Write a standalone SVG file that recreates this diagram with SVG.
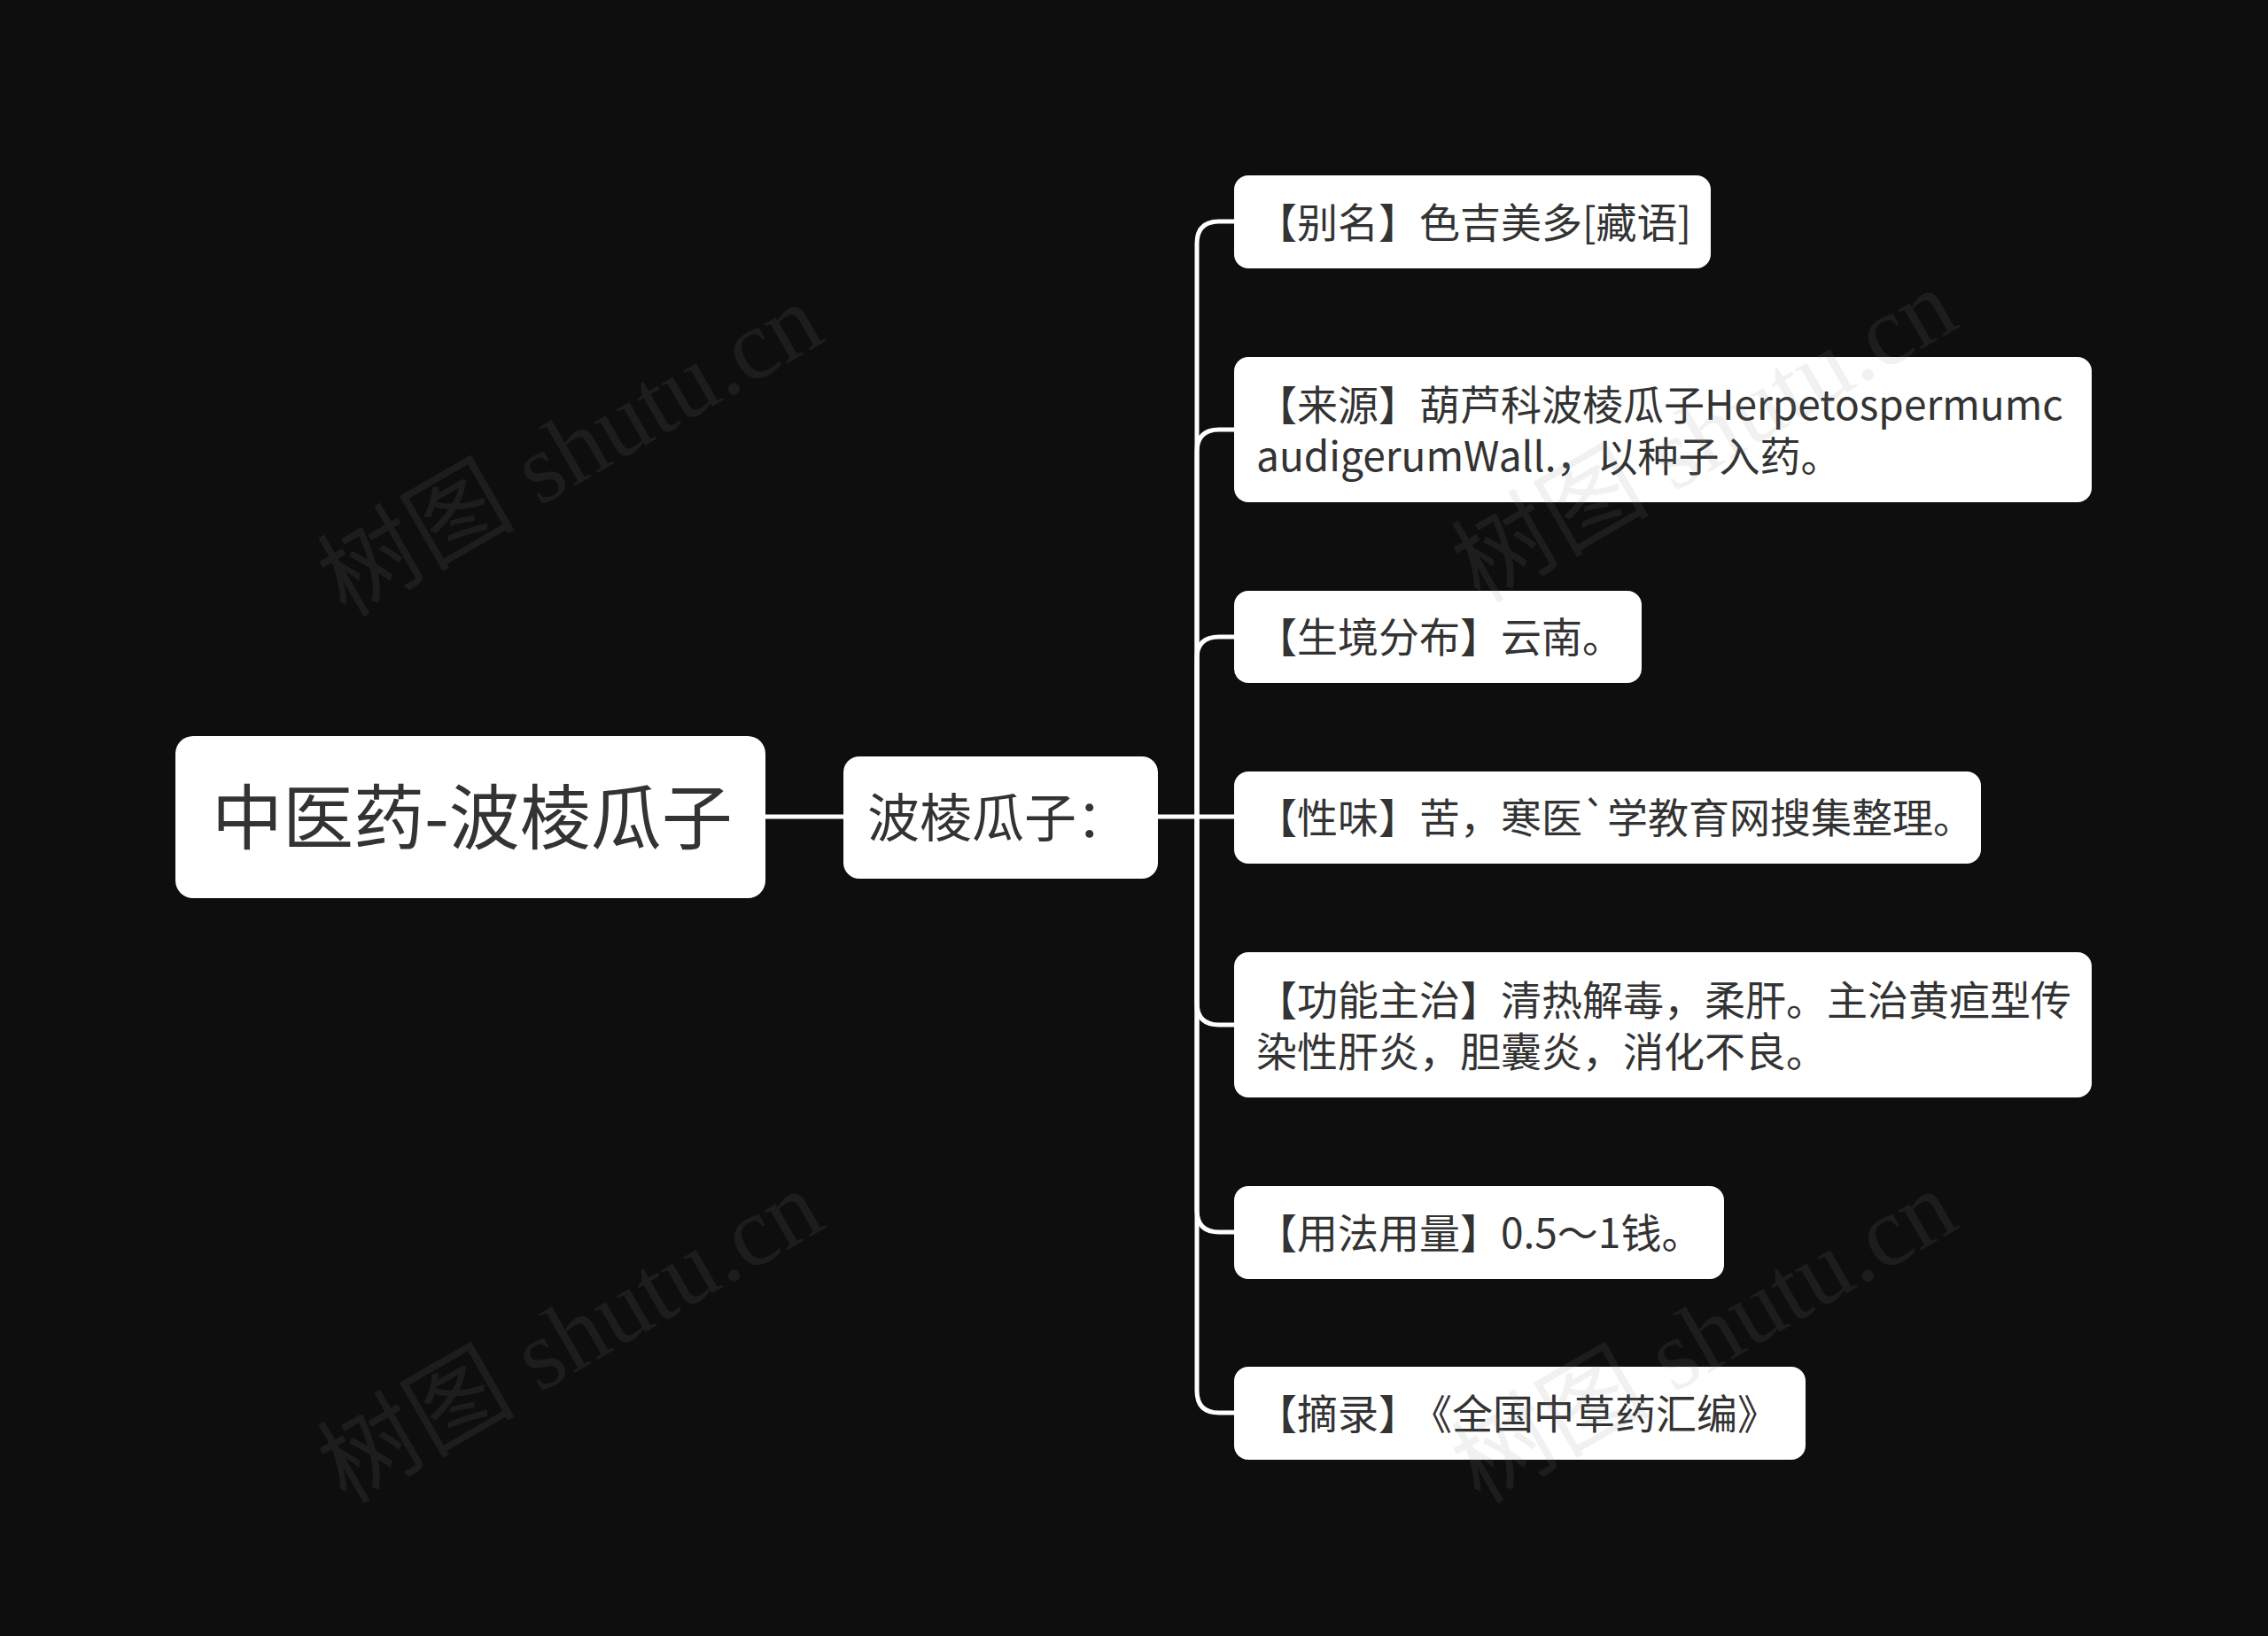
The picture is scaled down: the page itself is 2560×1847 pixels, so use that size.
<svg xmlns="http://www.w3.org/2000/svg" width="2560" height="1847" viewBox="0 0 2560 1847">
<style>
.bg{fill:#0e0e0e}
.box{fill:#ffffff}
.t{font-family:"Noto Sans CJK SC","Noto Sans",sans-serif;fill:#333333}
.leaf{font-size:46px}
.wm{font-family:"Liberation Serif","Noto Sans CJK SC",serif;font-size:112px;fill:#8a8a8a;fill-opacity:0.12}
.c{fill:none;stroke:#ffffff;stroke-width:5;stroke-linecap:round;stroke-linejoin:round}
</style>
<rect class="bg" x="0" y="0" width="2560" height="1847"/>
<g id="connectors">
<path class="c" d="M864,922 H952"/>
<path class="c" d="M1307,922 H1351 V275 Q1351,250 1376,250 H1393"/>
<path class="c" d="M1351,922 V510 Q1351,485 1376,485 H1393"/>
<path class="c" d="M1351,922 V743 Q1351,719 1376,719 H1393"/>
<path class="c" d="M1351,922 H1393"/>
<path class="c" d="M1351,922 V1132 Q1351,1157 1376,1157 H1393"/>
<path class="c" d="M1351,922 V1366 Q1351,1391 1376,1391 H1393"/>
<path class="c" d="M1351,922 V1570 Q1351,1595 1376,1595 H1393"/>
</g>
<g id="root">
<rect class="box" x="198" y="831" width="666" height="183" rx="20"/>
<text class="t" x="533" y="952" font-size="80" text-anchor="middle">中医药-波棱瓜子</text>
</g>
<g id="mid">
<rect class="box" x="952" y="854" width="355" height="138" rx="18"/>
<text class="t" x="979" y="945" font-size="59">波棱瓜子：</text>
</g>
<g id="leaf1">
<rect class="box" x="1393" y="198" width="538" height="105" rx="16"/>
<text class="t leaf" x="1418" y="268">【别名】色吉美多[藏语]</text>
</g>
<g id="leaf2">
<rect class="box" x="1393" y="403" width="968" height="164" rx="16"/>
<text class="t leaf"><tspan x="1418" y="474">【来源】葫芦科波棱瓜子Herpetospermumc</tspan><tspan x="1418" y="532">audigerumWall.，以种子入药。</tspan></text>
</g>
<g id="leaf3">
<rect class="box" x="1393" y="667" width="460" height="104" rx="16"/>
<text class="t leaf" x="1418" y="736">【生境分布】云南。</text>
</g>
<g id="leaf4">
<rect class="box" x="1393" y="871" width="843" height="104" rx="16"/>
<text class="t leaf" x="1418" y="940">【性味】苦，寒医`学教育网搜集整理。</text>
</g>
<g id="leaf5">
<rect class="box" x="1393" y="1075" width="968" height="164" rx="16"/>
<text class="t leaf"><tspan x="1418" y="1146">【功能主治】清热解毒，柔肝。主治黄疸型传</tspan><tspan x="1418" y="1204">染性肝炎，胆囊炎，消化不良。</tspan></text>
</g>
<g id="leaf6">
<rect class="box" x="1393" y="1339" width="553" height="105" rx="16"/>
<text class="t leaf" x="1418" y="1409">【用法用量】0.5～1钱。</text>
</g>
<g id="leaf7">
<rect class="box" x="1393" y="1543" width="645" height="105" rx="16"/>
<text class="t leaf" x="1418" y="1613">【摘录】<tspan dx="14">《全国中草药汇编》</tspan></text>
</g>
<g id="watermarks">
<text class="wm" x="647" y="545" text-anchor="middle" transform="rotate(-30 647 514)">树图 shutu.cn</text>
<text class="wm" x="1927" y="529" text-anchor="middle" transform="rotate(-30 1927 498)">树图 shutu.cn</text>
<text class="wm" x="647" y="1546" text-anchor="middle" transform="rotate(-30 647 1515)">树图 shutu.cn</text>
<text class="wm" x="1927" y="1546" text-anchor="middle" transform="rotate(-30 1927 1515)">树图 shutu.cn</text>
</g>
</svg>
